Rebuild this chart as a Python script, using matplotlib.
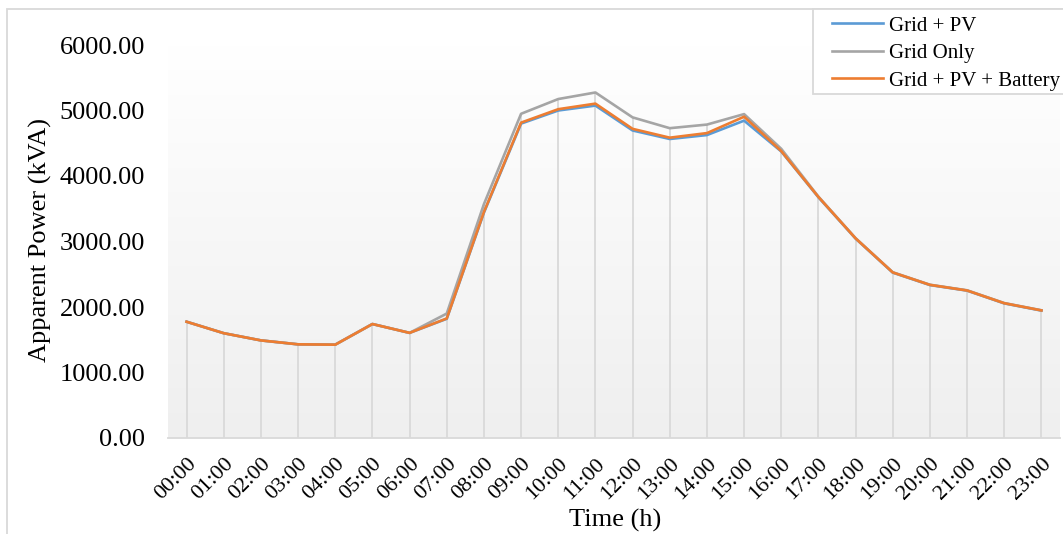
import numpy as np
import matplotlib
matplotlib.use("Agg")
import matplotlib.pyplot as plt
from matplotlib.colors import LinearSegmentedColormap
from matplotlib.patches import Rectangle
from matplotlib.transforms import ScaledTranslation

plt.rcParams['font.family'] = ['Liberation Serif', 'DejaVu Serif']

hours = [f"{h:02d}:00" for h in range(24)]

grid_pv = [1775, 1600, 1490, 1430, 1425, 1740, 1605, 1820, 3440, 4800, 5000, 5075,
           4695, 4565, 4625, 4845, 4375, 3675, 3045, 2525, 2335, 2250, 2055, 1945]
grid_only = [1775, 1600, 1490, 1430, 1425, 1740, 1605, 1900, 3570, 4950, 5175, 5275,
             4895, 4730, 4785, 4945, 4415, 3685, 3050, 2530, 2340, 2255, 2060, 1950]
grid_pv_battery = [1775, 1600, 1490, 1430, 1425, 1740, 1605, 1825, 3450, 4815, 5020, 5105,
                   4720, 4585, 4655, 4905, 4380, 3680, 3048, 2528, 2338, 2252, 2058, 1948]

series_names = ["Grid + PV", "Grid Only", "Grid + PV + Battery"]
series_colors = ["#5b9bd5", "#a5a5a5", "#ed7d31"]
y_ticks = [0, 1000, 2000, 3000, 4000, 5000, 6000]

W, H = 1063, 534
fig = plt.figure(figsize=(W / 100, H / 100), dpi=100)
ax = fig.add_axes([168 / W, 1 - 438 / H, (1060 - 168) / W, (438 - 45) / H])

# chart frame (only left and top edges fall inside the canvas)
fig.patches.append(Rectangle((7 / W, -0.1), 1.2, 1 - 9 / H + 0.1, transform=fig.transFigure,
                             fill=False, edgecolor="#d9d9d9", linewidth=1.3, zorder=0))

x = np.arange(len(hours))

# vertical gradient fill of the plot area
grad = np.linspace(1, 0, 256).reshape(-1, 1)
cmap = LinearSegmentedColormap.from_list("bg", ["#efefef", "#ffffff"])
ax.imshow(grad, extent=[-0.5, len(hours) - 0.5, 0, 6000], aspect="auto",
          cmap=cmap, origin="upper", zorder=0)

# drop lines from the highest series down to the axis
tops = np.max(np.vstack([grid_pv, grid_only, grid_pv_battery]), axis=0)
ax.vlines(x, 0, tops, colors="#d9d9d9", linewidth=1.3, zorder=1)

for vals, name, col in zip([grid_pv, grid_only, grid_pv_battery], series_names, series_colors):
    ax.plot(x, vals, color=col, linewidth=1.9, label=name, zorder=3,
            solid_joinstyle="round")

ax.set_xlim(-0.5, len(hours) - 0.5)
ax.set_ylim(0, 6000)
ax.set_xticks(x)
ax.set_xticklabels(hours, rotation=45, ha="right", rotation_mode="anchor", fontsize=16)
shift = ScaledTranslation(-4 / 100, 0, fig.dpi_scale_trans)
for lbl in ax.get_xticklabels():
    lbl.set_transform(lbl.get_transform() + shift)
ax.set_yticks(y_ticks)
ax.set_yticklabels([f"{v:.2f}" for v in y_ticks], fontsize=19)
ax.tick_params(axis="both", length=0)
ax.tick_params(axis="x", pad=12)
ax.tick_params(axis="y", pad=16.5)

for s in ["top", "right", "left"]:
    ax.spines[s].set_visible(False)
ax.spines["bottom"].set_color("#d9d9d9")
ax.spines["bottom"].set_linewidth(1.3)

fig.text(40 / W, 1 - 240 / H, "Apparent Power (kVA)", rotation=90, ha="center", va="center",
         fontsize=19)
fig.text(615 / W, 1 - 520 / H, "Time (h)", ha="center", va="center", fontsize=19)

# legend box
fig.patches.append(Rectangle((813 / W, 1 - 94 / H), 1.0, (94 - 9) / H, transform=fig.transFigure,
                             facecolor="white", edgecolor="#d9d9d9", linewidth=1.3, zorder=1))
leg = fig.legend(loc="upper left", bbox_to_anchor=(832 / W, 1 - 16 / H), fontsize=15,
                 handlelength=2.45, handletextpad=0.29, labelspacing=0.38, borderpad=0,
                 borderaxespad=0, frameon=False)
leg.set_zorder(5)
for line in leg.get_lines():
    line.set_linewidth(1.9)

fig.savefig("out.png", dpi=100)
